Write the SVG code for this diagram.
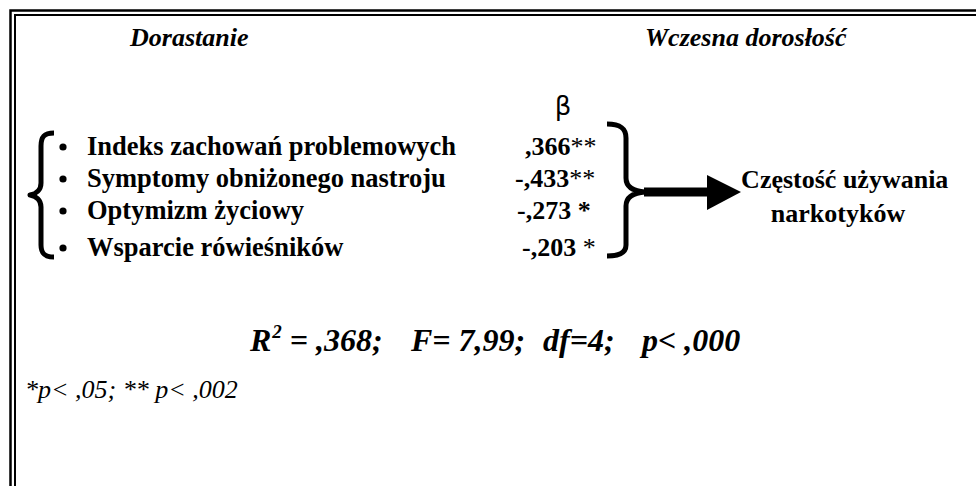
<svg xmlns="http://www.w3.org/2000/svg" width="976" height="486" viewBox="0 0 976 486">
<style>
.t{font-family:"Liberation Serif","Times New Roman",serif;fill:#000}
.bi{font-weight:bold;font-style:italic}
.b{font-weight:bold}
.it{font-style:italic}
.r{font-weight:normal}
.br{fill:none;stroke:#000;stroke-width:5;stroke-linecap:butt;stroke-linejoin:round}
</style>
<rect width="976" height="486" fill="#fff"/>
<g id="frame" fill="none" stroke="#000">
<path d="M10.5 500 V10.5 H990" stroke-width="2.5"/>
<path d="M15 500 V15 H990" stroke-width="2"/>
</g>
<g id="headers">
<text class="t bi" x="130" y="46" font-size="26">Dorastanie</text>
<text class="t bi" x="645" y="46" font-size="26">Wczesna dorosłość</text>
</g>
<g id="predictors">
<path class="br" d="M54 133 C44 133 41 137 41 146 L41 183 C41 190 36 194 30 195 C36 196 41 200 41 207 L41 245 C41 253 44 257 54 257"/>
<g fill="#000">
<circle cx="63" cy="147" r="3.6"/>
<circle cx="63" cy="179" r="3.6"/>
<circle cx="63" cy="211" r="3.6"/>
<circle cx="63" cy="248" r="3.6"/>
</g>
<text class="t b" font-size="26.5">
<tspan x="87" y="155">Indeks zachowań problemowych</tspan>
<tspan x="87" y="187">Symptomy obniżonego nastroju</tspan>
<tspan x="87" y="219">Optymizm życiowy</tspan>
<tspan x="87" y="256">Wsparcie rówieśników</tspan>
</text>
</g>
<g id="betas">
<text x="563" y="115" font-size="26" text-anchor="middle" style="font-family:'DejaVu Sans','Liberation Sans',sans-serif">β</text>
<text class="t b" font-size="26">
<tspan x="525" y="155">,366<tspan class="r">**</tspan></tspan>
<tspan x="515" y="187">-,433<tspan class="r">**</tspan></tspan>
<tspan x="517" y="219">-,273 *</tspan>
<tspan x="522" y="256">-,203 <tspan class="r">*</tspan></tspan>
</text>
</g>
<g id="connectors">
<path class="br" d="M607 124 C620 124 626 128 626 138 L626 178 C626 186 632 191 645 192 C632 193 626 198 626 206 L626 245 C626 252 620 256 607 256"/>
<line x1="644" y1="192" x2="709" y2="192" stroke="#000" stroke-width="9"/>
<polygon points="707,175 741,192 707,210" fill="#000"/>
</g>
<g id="outcome">
<text class="t b" font-size="26" text-anchor="middle">
<tspan x="848" y="188">Częstość używania</tspan>
<tspan x="838" y="222">narkotyków</tspan>
</text>
</g>
<g id="stats" class="t bi" font-size="32">
<text x="250" y="351">R<tspan font-size="19" dx="1" dy="-13">2</tspan><tspan dy="13"> = ,368;</tspan></text>
<text x="411" y="351">F= 7,99;</text>
<text x="543" y="351">df=4;</text>
<text x="642" y="351">p&lt; ,000</text>
</g>
<g id="footnote">
<text class="t it" font-size="26" x="25" y="398">*p&lt; ,05; ** p&lt; ,002</text>
</g>
</svg>
